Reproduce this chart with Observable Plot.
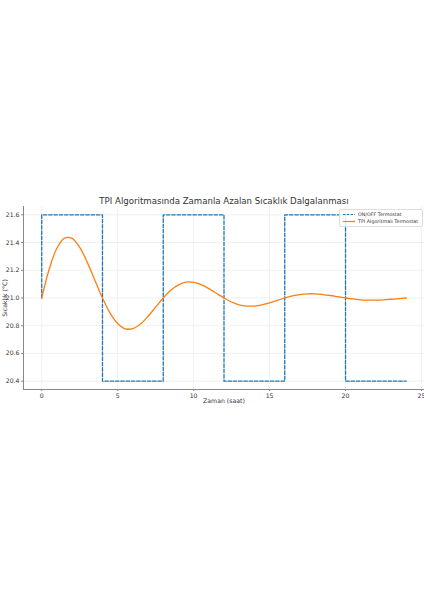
<!DOCTYPE html>
<html>
<head>
<meta charset="utf-8">
<script src="https://cdn.jsdelivr.net/npm/d3@7"></script>
<script src="https://cdn.jsdelivr.net/npm/@observablehq/plot@0.6"></script>
<style>
  html, body { margin: 0; padding: 0; background: #fff; }
  #wrap { position: relative; width: 424px; height: 600px; font-family: "DejaVu Sans", sans-serif; }
  #legend { position: absolute; left: 339px; top: 209px; width: 82px; height: 16px;
    border: 0.6px solid #ddd; border-radius: 2px; background: rgba(255,255,255,0.85);
    font-size: 4.8px; color: #333; }
  .row { position: absolute; left: 3px; display: flex; align-items: center; white-space: nowrap; }
  .row svg { margin-right: 3px; }
</style>
</head>
<body>
<div id="wrap"></div>
<script>
const title = "TPI Algoritmasında Zamanla Azalan Sıcaklık Dalgalanması";
const xLabel = "Zaman (saat)";
const yLabel = "Sıcaklık (°C)";
const seriesNames = ["ON/OFF Termostat", "TPI Algoritmalı Termostat"];
const xTicks = [0, 5, 10, 15, 20, 25];
const yTicks = [20.4, 20.6, 20.8, 21.0, 21.2, 21.4, 21.6];
const xDomain = [-1.2, 25.2];
const yDomain = [20.34, 21.66];

// ON/OFF thermostat (step-after)
const onoffTime = [0, 0, 4, 8, 12, 16, 20, 24];
const onoffTemp = [21.0, 21.6, 20.4, 21.6, 20.4, 21.6, 20.4, 20.4];

// TPI thermostat (read every 0.5 h)
const tpiTime = [0,0.5,1,1.5,2,2.5,3,3.5,4,4.5,5,5.5,6,6.5,7,7.5,8,8.5,9,9.5,10,10.5,11,11.5,12,
  12.5,13,13.5,14,14.5,15,15.5,16,16.5,17,17.5,18,18.5,19,19.5,20,20.5,21,21.5,22,22.5,23,23.5,24];
const tpiTemp = [21.000,21.211,21.359,21.432,21.430,21.365,21.257,21.128,21.000,20.891,20.816,20.778,20.779,20.812,20.868,20.934,21.000,
  21.056,21.095,21.114,21.113,21.096,21.068,21.034,21.000,20.971,20.951,20.942,20.942,20.951,20.965,20.983,21.000,
  21.015,21.025,21.030,21.030,21.025,21.018,21.009,21.000,20.993,20.987,20.985,20.985,20.987,20.991,20.995,21.000];

const onoff = onoffTime.map((t, i) => ({t, v: onoffTemp[i]}));
const tpi = tpiTime.map((t, i) => ({t, v: tpiTemp[i]}));

const blue = "#1f77b4", orange = "#ff7f0e";

const chart = Plot.plot({
  width: 424,
  height: 600,
  marginTop: 206,
  marginBottom: 211,
  marginLeft: 23,
  marginRight: 0,
  style: { fontFamily: "DejaVu Sans, sans-serif", color: "#333", background: "#fff" },
  x: { domain: xDomain },
  y: { domain: yDomain },
  marks: [
    Plot.gridX(xTicks, { stroke: "#e6e6e6", strokeOpacity: 1, strokeWidth: 0.6 }),
    Plot.gridY(yTicks, { stroke: "#e6e6e6", strokeOpacity: 1, strokeWidth: 0.6 }),
    Plot.axisX(xTicks, { tickSize: 2, tickPadding: 2, fontSize: 6.2, stroke: "#888",
      label: xLabel, labelAnchor: "center", labelOffset: 13, labelArrow: "none" }),
    Plot.axisY(yTicks, { tickSize: 2, tickPadding: 2, fontSize: 6.2, stroke: "#888",
      tickFormat: d3.format(".1f"),
      label: yLabel, labelAnchor: "center", labelOffset: 21, labelArrow: "none" }),
    Plot.ruleX([xDomain[0]], { stroke: "#888", strokeWidth: 1 }),
    Plot.ruleY([yDomain[0]], { stroke: "#888", strokeWidth: 1 }),
    Plot.line(onoff, { x: "t", y: "v", curve: "step-after", stroke: blue, strokeWidth: 1.3, strokeDasharray: "3.5,1.8" }),
    Plot.line(tpi, { x: "t", y: "v", curve: "catmull-rom", stroke: orange, strokeWidth: 1.3 }),
    Plot.text([title], { frameAnchor: "top", dy: -3, fontSize: 8.6, fill: "#333", lineAnchor: "bottom" })
  ]
});
const wrap = document.getElementById("wrap");
wrap.appendChild(chart);

const legend = document.createElement("div");
legend.id = "legend";
const items = [{name: seriesNames[0], color: blue, dash: "2.5,1.3"}, {name: seriesNames[1], color: orange, dash: null}];
items.forEach((it, i) => {
  const row = document.createElement("div");
  row.className = "row";
  row.style.top = (2 + i * 6.5) + "px";
  row.innerHTML = `<svg width="12" height="5"><line x1="0" x2="12" y1="2.5" y2="2.5" stroke="${it.color}" stroke-width="1.2" ${it.dash ? `stroke-dasharray="${it.dash}"` : ""}/></svg><span>${it.name}</span>`;
  legend.appendChild(row);
});
wrap.appendChild(legend);
</script>
</body>
</html>
